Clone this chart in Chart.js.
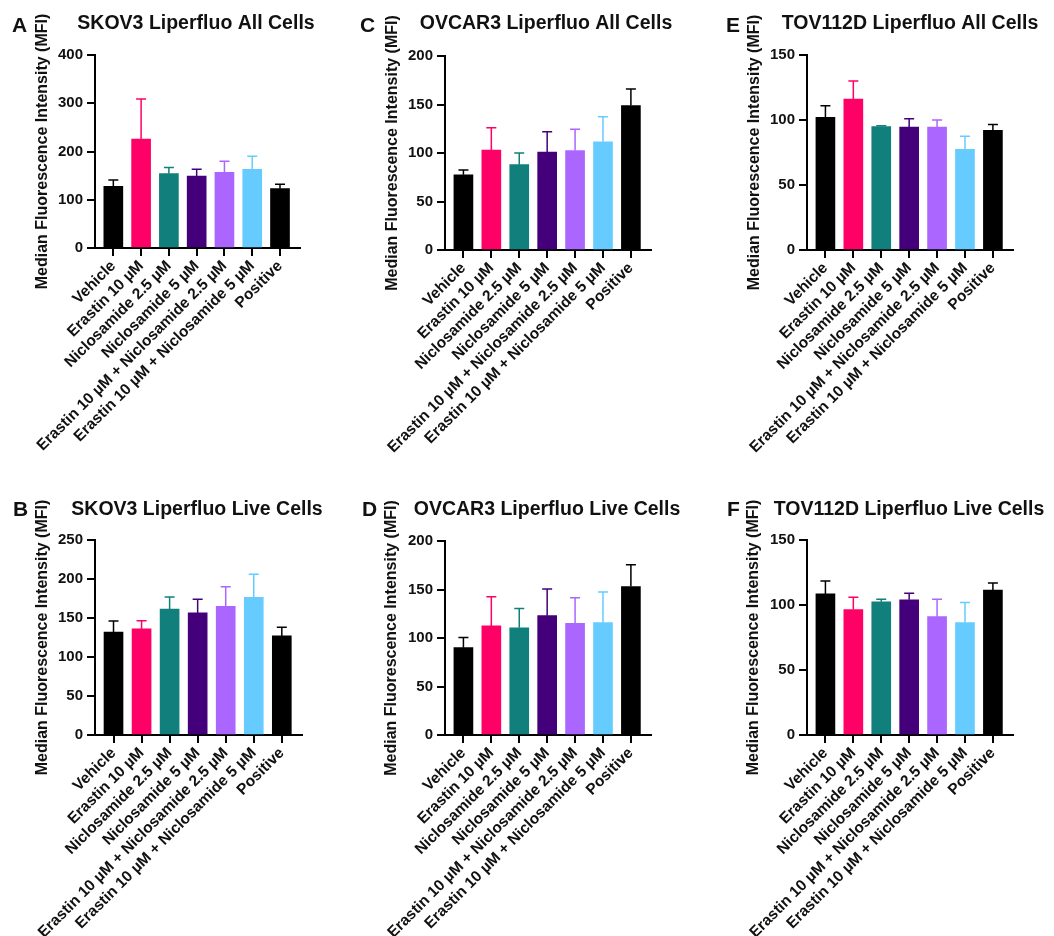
<!DOCTYPE html>
<html>
<head>
<meta charset="utf-8">
<script src="https://cdn.jsdelivr.net/npm/chart.js@4.4.1/dist/chart.umd.min.js"></script>
<style>
body { margin: 0; background: #fff; }
#wrap { position: relative; width: 1054px; height: 936px; }
#wrap canvas { position: absolute; }
</style>
</head>
<body>
<div id="wrap">
  <canvas id="cA" width="345" height="490" style="left:0px;top:0px"></canvas>
  <canvas id="cC" width="345" height="490" style="left:345px;top:0px"></canvas>
  <canvas id="cE" width="364" height="490" style="left:690px;top:0px"></canvas>
  <canvas id="cB" width="345" height="446" style="left:0px;top:490px"></canvas>
  <canvas id="cD" width="345" height="446" style="left:345px;top:490px"></canvas>
  <canvas id="cF" width="364" height="446" style="left:690px;top:490px"></canvas>
</div>
<script>
// groups on the x axis
const categories = ['Vehicle', 'Erastin 10 µM', 'Niclosamide 2.5 µM', 'Niclosamide 5 µM',
    'Erastin 10 µM + Niclosamide 2.5 µM', 'Erastin 10 µM + Niclosamide 5 µM', 'Positive'];
const barColors = ['#000000', '#FF0066', '#117F7B', '#43007A', '#AA66FF', '#66CCFF', '#000000'];

// mean MFI and upper error (SD) per group
const skov3AllMean = [128, 226, 154, 149, 157, 163, 123];
const skov3AllErr = [13, 83, 13, 14, 23, 27, 9];
const skov3LiveMean = [132, 136, 161.5, 156.5, 165, 176.5, 127];
const skov3LiveErr = [14, 10.5, 15.5, 17.5, 25, 29.5, 11];
const ovcar3AllMean = [77.5, 103, 88, 101, 102.5, 111.5, 149];
const ovcar3AllErr = [5, 23, 12, 21, 22, 26, 17];
const ovcar3LiveMean = [90, 112.5, 110.5, 123, 115, 116, 153];
const ovcar3LiveErr = [10.5, 30, 20, 27.5, 26.5, 31.5, 22.5];
const tov112dAllMean = [102, 116, 95, 94.5, 94.5, 77.5, 92];
const tov112dAllErr = [9, 14, 0.6, 6.5, 5.5, 10, 4.5];
const tov112dLiveMean = [108.5, 96.5, 102.5, 104, 91, 86.5, 111.5];
const tov112dLiveErr = [10, 9.5, 2, 5, 13.5, 15.5, 5.5];

// y axis: max and step
const yMaxA = 400, yStepA = 100;
const yMaxB = 250, yStepB = 50;
const yMaxC = 200, yStepC = 50;
const yMaxD = 200, yStepD = 50;
const yMaxE = 150, yStepE = 50;
const yMaxF = 150, yStepF = 50;

const yTitle = 'Median Fluorescence Intensity (MFI)';
const FONT = '"Liberation Sans", Arial, sans-serif';

var panelText = {
    id: 'panelText',
    afterDraw: function(chart, args, opts) {
        var ctx = chart.ctx;
        var area = chart.chartArea;
        ctx.save();
        ctx.fillStyle = '#111';
        ctx.textBaseline = 'alphabetic';
        ctx.font = 'bold 21px ' + FONT;
        ctx.textAlign = 'left';
        ctx.fillText(opts.letter, opts.letterX, opts.letterY);
        ctx.font = 'bold 19.5px ' + FONT;
        ctx.textAlign = 'center';
        ctx.fillText(opts.title, opts.titleX, opts.titleY);
        ctx.translate(opts.yTitleX, (area.top + area.bottom) / 2);
        ctx.rotate(-Math.PI / 2);
        ctx.font = 'bold 16px ' + FONT;
        ctx.textBaseline = 'middle';
        ctx.fillText(yTitle, 0, 0);
        ctx.restore();
    }
};

var errorBars = {
    id: 'errorBars',
    afterDatasetsDraw: function(chart, args, opts) {
        var ctx = chart.ctx;
        var yScale = chart.scales.y;
        var ds = chart.data.datasets[0];
        var meta = chart.getDatasetMeta(0);
        ctx.save();
        ctx.lineWidth = 1.5;
        for (var i = 0; i < meta.data.length; i++) {
            var bar = meta.data[i];
            var yTop = yScale.getPixelForValue(ds.data[i].y + opts.err[i]);
            ctx.strokeStyle = barColors[i];
            ctx.beginPath();
            ctx.moveTo(bar.x, bar.y);
            ctx.lineTo(bar.x, yTop);
            ctx.moveTo(bar.x - 5, yTop);
            ctx.lineTo(bar.x + 5, yTop);
            ctx.stroke();
        }
        ctx.restore();
    }
};

function makePanel(id, mean, err, yMax, yStep, box)
{
    var canvas = document.getElementById(id);
    var W = canvas.width, H = canvas.height;
    var points = mean.map(function(v, i) { return {x: i, y: v}; });
    return new Chart(canvas, {
        type: 'bar',
        data: {
            datasets: [{
                data: points,
                backgroundColor: barColors,
                borderWidth: 0,
                barThickness: 19
            }]
        },
        options: {
            responsive: false,
            animation: false,
            layout: { padding: { left: 0, top: box.top, right: W - box.right, bottom: 0 } },
            plugins: {
                legend: { display: false },
                tooltip: { enabled: false },
                errorBars: { err: err },
                panelText: box.text
            },
            scales: {
                x: {
                    type: 'linear',
                    offset: false,
                    min: -0.66,
                    max: 6.72,
                    afterBuildTicks: function(s) { s.ticks = categories.map(function(c, i) { return {value: i}; }); },
                    afterFit: function(s) { s.height = H - box.bottom; },
                    grid: { offset: false, drawOnChartArea: false, drawTicks: true, tickLength: 8, color: '#000', lineWidth: 2 },
                    border: { display: true, color: '#000', width: 2 },
                    ticks: {
                        autoSkip: false,
                        minRotation: 45,
                        maxRotation: 45,
                        padding: 1,
                        color: '#111',
                        font: { family: FONT, size: 15.5, weight: 'bold' },
                        callback: function(v) { return categories[v]; }
                    }
                },
                y: {
                    min: 0,
                    max: yMax,
                    afterFit: function(s) { s.width = box.left; },
                    grid: { drawOnChartArea: false, drawTicks: true, tickLength: 8, color: '#000', lineWidth: 2 },
                    border: { display: true, color: '#000', width: 2 },
                    ticks: {
                        stepSize: yStep,
                        padding: 4,
                        color: '#111',
                        font: { family: FONT, size: 15, weight: 'bold' }
                    }
                }
            }
        },
        plugins: [errorBars, panelText]
    });
}

makePanel('cA', skov3AllMean, skov3AllErr, yMaxA, yStepA, {left: 95, right: 300, top: 55, bottom: 248,
    text: {letter: 'A', letterX: 12, letterY: 32, title: 'SKOV3 Liperfluo All Cells', titleX: 196, titleY: 29, yTitleX: 43}});
makePanel('cC', ovcar3AllMean, ovcar3AllErr, yMaxC, yStepC, {left: 100, right: 306, top: 56, bottom: 250,
    text: {letter: 'C', letterX: 15, letterY: 32, title: 'OVCAR3 Liperfluo All Cells', titleX: 201, titleY: 29, yTitleX: 48}});
makePanel('cE', tov112dAllMean, tov112dAllErr, yMaxE, yStepE, {left: 117, right: 323, top: 55, bottom: 250,
    text: {letter: 'E', letterX: 36, letterY: 32, title: 'TOV112D Liperfluo All Cells', titleX: 220, titleY: 29, yTitleX: 65}});
makePanel('cB', skov3LiveMean, skov3LiveErr, yMaxB, yStepB, {left: 95, right: 302, top: 50, bottom: 245,
    text: {letter: 'B', letterX: 13, letterY: 26, title: 'SKOV3 Liperfluo Live Cells', titleX: 197, titleY: 25, yTitleX: 43}});
makePanel('cD', ovcar3LiveMean, ovcar3LiveErr, yMaxD, yStepD, {left: 100, right: 306, top: 51, bottom: 245,
    text: {letter: 'D', letterX: 17, letterY: 26, title: 'OVCAR3 Liperfluo Live Cells', titleX: 202, titleY: 25, yTitleX: 47}});
makePanel('cF', tov112dLiveMean, tov112dLiveErr, yMaxF, yStepF, {left: 117, right: 323, top: 50, bottom: 245,
    text: {letter: 'F', letterX: 37, letterY: 26, title: 'TOV112D Liperfluo Live Cells', titleX: 219, titleY: 25, yTitleX: 64}});
</script>
</body>
</html>
